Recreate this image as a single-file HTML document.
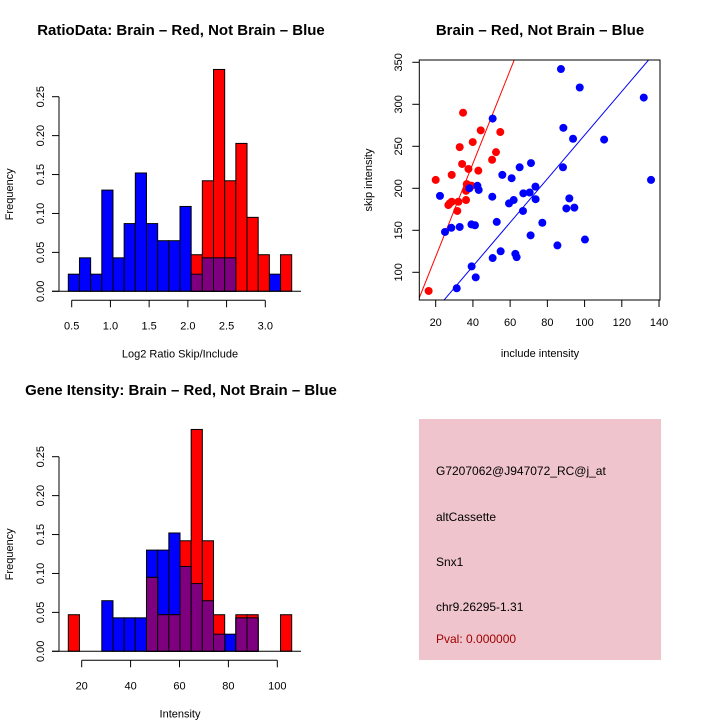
<!DOCTYPE html>
<html><head><meta charset="utf-8"><style>
body{margin:0;background:#fff}
svg{display:block;font-family:"Liberation Sans",sans-serif}
</style></head><body>
<svg id="s" width="720" height="720" viewBox="0 0 720 720">
<text x="181" y="35" font-size="15" font-weight="bold" text-anchor="middle">RatioData: Brain – Red, Not Brain – Blue</text>
<text x="540" y="35" font-size="15" font-weight="bold" text-anchor="middle">Brain – Red, Not Brain – Blue</text>
<text x="181" y="395" font-size="15" font-weight="bold" text-anchor="middle">Gene Itensity: Brain – Red, Not Brain – Blue</text>
<g>
<rect x="419" y="419" width="242" height="241" fill="#efc4cd"/>
<text x="436" y="475" font-size="12">G7207062@J947072_RC@j_at</text>
<text x="436" y="521" font-size="12">altCassette</text>
<text x="436" y="566" font-size="12">Snx1</text>
<text x="436" y="611" font-size="12">chr9.26295-1.31</text>
<text x="436" y="643" font-size="12" fill="#a00000">Pval: 0.000000</text>
</g>
</svg>
<script>
const ratioBlue=[0.022,0.043,0.022,0.13,0.043,0.087,0.152,0.087,0.065,0.065,0.109,0.022,0.043,0.043,0.043,0,0,0,0.022,0];
const ratioRed=[0,0,0,0,0,0,0,0,0,0,0,0.047,0.142,0.285,0.142,0.19,0.095,0.047,0,0.047];
const ratioXTicks=["0.5","1.0","1.5","2.0","2.5","3.0"];
const intBlue=[0,0,0,0.065,0.043,0.043,0.043,0.13,0.13,0.152,0.109,0.087,0.065,0.022,0.022,0.043,0.043,0,0,0];
const intRed=[0.047,0,0,0,0,0,0,0.095,0.047,0.047,0.142,0.285,0.142,0.047,0,0.047,0.047,0,0,0.047];
const intXTicks=["20","40","60","80","100"];
const freqTicks=["0.00","0.05","0.10","0.15","0.20","0.25"];
const redX=[16.2,20,28.6,32.9,34.7,34.2,37.6,39.9,44.2,42.9,36.7,38.8,36.3,36.3,32.2,28.6,27.5,26.8,31.6,50.3,52.4,54.7,39.3];
const redY=[77.8,210,216,249,290,229,223,255,269,221,205,203,197,186,184,184,182,180,173,234,243,267,203];
const blueX=[87.3,97.4,50.6,88.6,93.8,110.5,131.8,135.7,65.1,71.2,88.4,55.8,60.8,73.6,42.4,43.1,38.1,22.3,50.4,67.1,70.5,73.7,59.4,61.9,91.8,90.2,94.5,66.9,77.3,52.8,39.2,41.1,32.9,28.4,25.0,71.0,85.4,100.2,54.9,62.8,63.5,50.6,39.3,41.5,31.3];
const blueY=[342,320,283,272,259,258,308,210,225,230,225,216,212,202,203,198,200,191,190,194,195,187,182,186,188,176,177,173,159,160,157,156,154,153,148,144,132,139,125,122,118,117,107,94,81];
const scXTicks=[20,40,60,80,100,120,140];
const scYTicks=[100,150,200,250,300,350];
const redFit=[7.6,5.55];
const blueFit=[3.3,2.6];

const NS="http://www.w3.org/2000/svg";
const svg=document.getElementById('s');
function mk(tag,attrs,parent,txt){const e=document.createElementNS(NS,tag);for(const k in attrs)e.setAttribute(k,attrs[k]);if(txt!==undefined)e.textContent=txt;(parent||svg).appendChild(e);return e;}

function hist(blue,red,xt,xTickStart,xTickStep,y0,label,name){
  const g=mk('g',{});
  
  
  const bx0=68.3,bw=11.17;
  const yS=v=>y0-v*194.6/0.25;
  const n=blue.length;
  for(let i=0;i<n;i++){
    const x=bx0+i*bw;
    if(blue[i]>0){const r=mk('rect',{x:x,y:yS(blue[i]),width:bw,height:y0-yS(blue[i]),fill:'#0000ff',stroke:'#000','stroke-width':1},g);
      
      }
  }
  for(let i=0;i<n;i++){
    const x=bx0+i*bw;
    if(red[i]>0){const r=mk('rect',{x:x,y:yS(red[i]),width:bw,height:y0-yS(red[i]),fill:'#ff0000',stroke:'#000','stroke-width':1},g);
      
      }
  }
  for(let i=0;i<n;i++){
    const x=bx0+i*bw;const m=Math.min(blue[i],red[i]);
    if(m>0){const r=mk('rect',{x:x,y:yS(m),width:bw,height:y0-yS(m),fill:'#7f007f',stroke:'#000','stroke-width':1},g);
      
      }
  }
  mk('line',{x1:52,x2:301,y1:y0,y2:y0,stroke:'#000','stroke-width':1},g);
  mk('line',{x1:59,x2:59,y1:yS(0),y2:yS(0.25),stroke:'#000'},g);
  freqTicks.forEach((t,i)=>{const y=yS(i*0.05);mk('line',{x1:52,x2:59,y1:y,y2:y,stroke:'#000'},g);
    const tx=mk('text',{x:0,y:0,'font-size':11,'text-anchor':'middle',transform:`translate(44,${y}) rotate(-90)`},g,t);
    
    });
  const yl=mk('text',{x:0,y:0,'font-size':11,'text-anchor':'middle',transform:`translate(13,${y0-97}) rotate(-90)`},g,'Frequency');
  
  
  const ax=y0+9;
  const xs=i=>xTickStart+i*xTickStep;
  mk('line',{x1:xs(0),x2:xs(xt.length-1),y1:ax,y2:ax,stroke:'#000'},g);
  xt.forEach((t,i)=>{mk('line',{x1:xs(i),x2:xs(i),y1:ax,y2:ax+7,stroke:'#000'},g);
    const tx=mk('text',{x:xs(i),y:ax+29,'font-size':11,'text-anchor':'middle'},g,t);
    
    });
  const xl=mk('text',{x:180,y:y0+66,'font-size':11,'text-anchor':'middle'},g,label);
  
  
}
hist(ratioBlue,ratioRed,ratioXTicks,71.7,38.72,291.3,'Log2 Ratio Skip/Include','ratio-histogram');
hist(intBlue,intRed,intXTicks,81.7,48.9,651.3,'Intensity','intensity-histogram');

const sg=mk('g',{});


const sx=v=>435.7+(v-20)*1.861;
const sy=v=>272.3-(v-100)*0.84;
const L=419.3,R=660,T=60,B=300;
mk('clipPath',{id:'cp'},sg);
mk('rect',{x:L,y:T,width:R-L,height:B-T},document.getElementById('cp'));
function fit(f,col,name){const x1=0,x2=150;
  const l=mk('line',{x1:sx(x1),y1:sy(f[0]+f[1]*x1),x2:sx(x2),y2:sy(f[0]+f[1]*x2),stroke:col,'stroke-width':1,'clip-path':'url(#cp)'},sg);
  
  }
fit(redFit,'#ff0000','red-fit-line');
fit(blueFit,'#0000ff','blue-fit-line');
redX.forEach((x,i)=>{const c=mk('circle',{cx:sx(x),cy:sy(redY[i]),r:4,fill:'#ff0000'},sg);
  
  });
blueX.forEach((x,i)=>{const c=mk('circle',{cx:sx(x),cy:sy(blueY[i]),r:4,fill:'#0000ff'},sg);
  
  });
mk('rect',{x:L,y:T,width:R-L,height:B-T,fill:'none',stroke:'#000'},sg);
scXTicks.forEach(t=>{mk('line',{x1:sx(t),x2:sx(t),y1:B,y2:B+7,stroke:'#000'},sg);
  const tx=mk('text',{x:sx(t),y:B+26,'font-size':11,'text-anchor':'middle'},sg,String(t));
  
  });
scYTicks.forEach(t=>{mk('line',{x1:L-7,x2:L,y1:sy(t),y2:sy(t),stroke:'#000'},sg);
  const tx=mk('text',{x:0,y:0,'font-size':11,'text-anchor':'middle',transform:`translate(402,${sy(t)}) rotate(-90)`},sg,String(t));
  
  });
const sxl=mk('text',{x:540,y:357,'font-size':11,'text-anchor':'middle'},sg,'include intensity');


const syl=mk('text',{x:0,y:0,'font-size':11,'text-anchor':'middle',transform:'translate(372,180) rotate(-90)'},sg,'skip intensity');


</script>
</body></html>
